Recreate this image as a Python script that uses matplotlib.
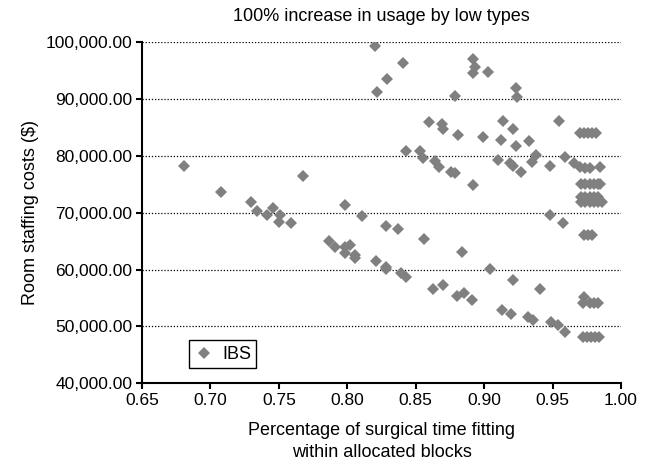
import matplotlib.pyplot as plt
from matplotlib.ticker import FuncFormatter

plt.rcParams['font.family'] = ['Liberation Sans', 'DejaVu Sans']

# share of surgical time fitting in blocks, and room staffing cost ($)
fit_pct = [
    0.681, 0.708, 0.768, 0.730, 0.734, 0.741, 0.746, 0.751, 0.750, 0.759,
    0.820, 0.841, 0.829, 0.822, 0.879, 0.860, 0.869, 0.870, 0.881,
    0.843, 0.853, 0.855, 0.864, 0.867, 0.876, 0.879,
    0.798, 0.811, 0.828, 0.837, 0.856, 0.884,
    0.787, 0.791, 0.798, 0.802, 0.798, 0.806, 0.806, 0.821, 0.828, 0.828,
    0.839, 0.843, 0.863, 0.870, 0.880, 0.885,
    0.892, 0.893, 0.892, 0.903, 0.923, 0.924, 0.914, 0.921, 0.899, 0.912,
    0.923, 0.933, 0.955,
    0.970, 0.973, 0.976, 0.979, 0.982,
    0.910, 0.919, 0.921, 0.927, 0.935, 0.938, 0.948, 0.959, 0.966, 0.970,
    0.974, 0.977, 0.985,
    0.892, 0.971, 0.974, 0.977, 0.980, 0.983, 0.985,
    0.971, 0.974, 0.977, 0.980, 0.983,
    0.971, 0.974, 0.977, 0.980, 0.983, 0.986,
    0.948, 0.958, 0.973, 0.976, 0.979,
    0.904, 0.921, 0.941, 0.891, 0.913, 0.920, 0.932, 0.936, 0.949, 0.954,
    0.959,
    0.973, 0.972, 0.977, 0.980, 0.983,
    0.972, 0.975, 0.978, 0.981, 0.984,
]
staff_cost = [
    78300, 73600, 76400, 71950, 70400, 69700, 70800, 69700, 68300, 68150,
    99400, 96300, 93600, 91200, 90550, 86000, 85600, 84700, 83700,
    80900, 80900, 79600, 79200, 78100, 77200, 76950,
    71400, 69500, 67700, 67150, 65450, 63050,
    65100, 64050, 64050, 64350, 62900, 62600, 62100, 61500, 60500, 60100,
    59350, 58650, 56550, 57350, 55400, 55850,
    97000, 95700, 94550, 94700, 92000, 90300, 86150, 84700, 83400, 82800,
    81750, 82700, 86200,
    84000, 84000, 84000, 84000, 84000,
    79300, 78700, 78250, 77250, 79000, 80150, 78250, 79850, 78800, 78100,
    77950, 77950, 78000,
    74900, 75000, 75000, 75000, 75000, 75000, 75000,
    72850, 72850, 72850, 72850, 72850,
    71950, 71950, 71950, 71950, 71950, 71950,
    69600, 68150, 66100, 66100, 66100,
    60100, 58200, 56600, 54650, 52900, 52150, 51700, 51150, 50850, 50250,
    49100,
    55250, 54100, 54200, 54200, 54200,
    48100, 48100, 48100, 48100, 48100,
]

x_ticks = [0.65, 0.70, 0.75, 0.80, 0.85, 0.90, 0.95, 1.00]
y_ticks = [40000, 50000, 60000, 70000, 80000, 90000, 100000]

fig = plt.figure(figsize=(6.48, 4.68), dpi=100)
ax = fig.add_axes([0.2191, 0.181, 0.7392, 0.7286])

ax.plot(fit_pct, staff_cost, 'D', color='#808080', markersize=6,
        markeredgewidth=0, label='IBS', zorder=3)

ax.set_xlim(0.65, 1.00)
ax.set_ylim(40000, 100000)
ax.set_xticks(x_ticks)
ax.set_yticks(y_ticks)
ax.xaxis.set_major_formatter(FuncFormatter(lambda v, p: f'{v:.2f}'))
ax.yaxis.set_major_formatter(FuncFormatter(lambda v, p: f'{v:,.2f}'))

ax.yaxis.grid(True, linestyle=(0, (1, 1.5)), color='black', linewidth=0.9)
ax.set_axisbelow(True)
for side in ['top', 'right']:
    ax.spines[side].set_visible(False)
for side in ['left', 'bottom']:
    ax.spines[side].set_linewidth(1.5)
ax.tick_params(direction='out', length=4, width=1.5, labelsize=12.5, pad=3)

ax.set_title('100% increase in usage by low types', fontsize=13, pad=15)
ax.set_ylabel('Room staffing costs ($)', fontsize=13, labelpad=5)
ax.set_xlabel('Percentage of surgical time fitting\nwithin allocated blocks',
              fontsize=13, labelpad=10, linespacing=1.4)

leg = ax.legend(loc='lower left', bbox_to_anchor=(0.099, 0.044),
                borderaxespad=0, fancybox=False, edgecolor='black',
                framealpha=1, fontsize=13, handlelength=1.0,
                handletextpad=0.5, borderpad=0.3)
leg.get_frame().set_linewidth(1.0)

fig.savefig('out.png', dpi=100)
